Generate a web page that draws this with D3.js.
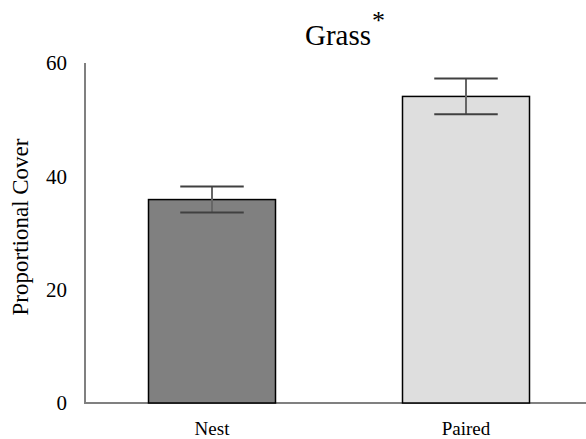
<!DOCTYPE html>
<html>
<head>
<meta charset="utf-8">
<script src="https://cdn.jsdelivr.net/npm/d3@7"></script>
<style>
  body { margin: 0; background: #fff; font-family: "Liberation Serif", serif; }
  svg { display: block; }
</style>
</head>
<body>
<div class="chart"></div>
<script>
// data
var categories = ["Nest", "Paired"];
var means = [35.9, 54.1];
var errors = [2.3, 3.15];
var fills = ["#808080", "#dedede"];
var yTicks = [0, 20, 40, 60];

var w = 586, h = 439;

var svg = d3.select(".chart")
    .append("svg")
    .attr("width", w)
    .attr("height", h)
    .style("font-family", "Liberation Serif");

var x = d3.scaleBand()
    .domain(categories)
    .range([85, 593])
    .paddingInner(0.5)
    .paddingOuter(0.25);

var y = d3.scaleLinear()
    .domain([0, 60])
    .range([403, 63]);

// axes lines
svg.append("line")
    .attr("x1", 85).attr("x2", 85)
    .attr("y1", y(60)).attr("y2", y(0))
    .attr("stroke", "#808080").attr("stroke-width", 2);

svg.append("line")
    .attr("x1", 84).attr("x2", w)
    .attr("y1", y(0)).attr("y2", y(0))
    .attr("stroke", "#808080").attr("stroke-width", 2);

// tick labels
svg.selectAll(".ytick")
    .data(yTicks)
    .enter()
    .append("text")
    .attr("class", "ytick")
    .attr("x", 67)
    .attr("y", function(d) { return y(d); })
    .attr("dy", "0.35em")
    .attr("text-anchor", "end")
    .style("font-family", "Liberation Serif")
    .style("font-size", "21px")
    .text(function(d) { return d; });

var data = categories.map(function(c, i) {
    return { cat: c, mean: means[i], err: errors[i], fill: fills[i] };
});

svg.selectAll("rect.bar")
    .data(data)
    .enter()
    .append("rect")
    .attr("class", "bar")
    .attr("x", function(d) { return x(d.cat); })
    .attr("y", function(d) { return y(d.mean); })
    .attr("width", x.bandwidth())
    .attr("height", function(d) { return y(0) - y(d.mean); })
    .attr("fill", function(d) { return d.fill; })
    .attr("stroke", "#000")
    .attr("stroke-width", 1.5);

// error bars
var eb = svg.selectAll("g.err")
    .data(data)
    .enter()
    .append("g")
    .attr("class", "err");

eb.append("line")
    .attr("x1", function(d) { return x(d.cat) + x.bandwidth() / 2; })
    .attr("x2", function(d) { return x(d.cat) + x.bandwidth() / 2; })
    .attr("y1", function(d) { return y(d.mean + d.err); })
    .attr("y2", function(d) { return y(d.mean - d.err); })
    .attr("stroke", "#666").attr("stroke-width", 2);

[1, -1].forEach(function(s) {
    eb.append("line")
        .attr("x1", function(d) { return x(d.cat) + x.bandwidth() / 4; })
        .attr("x2", function(d) { return x(d.cat) + x.bandwidth() * 3 / 4; })
        .attr("y1", function(d) { return y(d.mean + s * d.err); })
        .attr("y2", function(d) { return y(d.mean + s * d.err); })
        .attr("stroke", "#404040").attr("stroke-width", 2);
});

// category labels
svg.selectAll(".xlab")
    .data(categories)
    .enter()
    .append("text")
    .attr("class", "xlab")
    .attr("x", function(d) { return x(d) + x.bandwidth() / 2; })
    .attr("y", 435)
    .attr("text-anchor", "middle")
    .style("font-family", "Liberation Serif")
    .style("font-size", "19px")
    .text(function(d) { return d; });

// y axis title
svg.append("text")
    .attr("transform", "translate(28,227) rotate(-90)")
    .attr("text-anchor", "middle")
    .style("font-family", "Liberation Serif")
    .style("font-size", "23px")
    .text("Proportional Cover");

// chart title
var title = svg.append("text")
    .attr("x", 305)
    .attr("y", 45)
    .style("font-family", "Liberation Serif")
    .style("font-size", "29px");
title.append("tspan").text("Grass");
title.append("tspan")
    .attr("dy", -16)
    .attr("dx", 1)
    .style("font-size", "26px")
    .text("*");
</script>
</body>
</html>
